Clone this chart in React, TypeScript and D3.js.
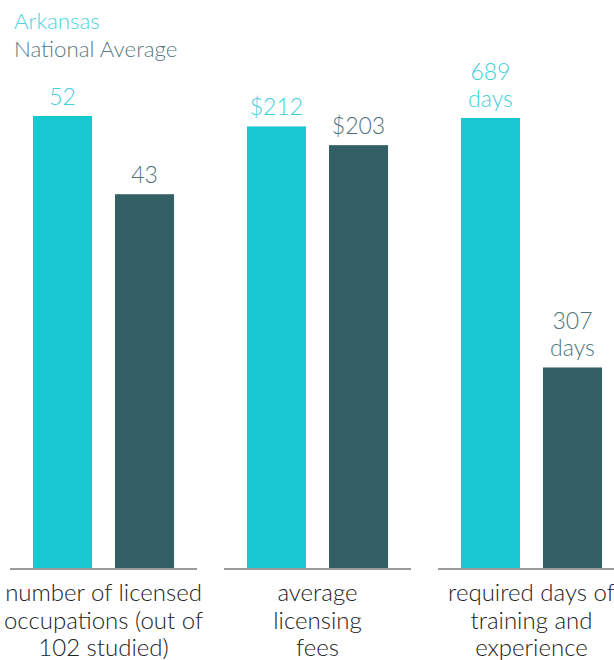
import React, { useRef, useEffect } from 'react';
import * as d3 from 'd3';

const categories = [
  ["number of licensed", "occupations (out of", "102 studied)"],
  ["average", "licensing", "fees"],
  ["required days of", "training and", "experience"],
];
const arkansas = [52, 212, 689];
const national = [43, 203, 307];
const arkansasLabels = [["52"], ["$212"], ["689", "days"]];
const nationalLabels = [["43"], ["$203"], ["307", "days"]];
const scaleMax = [52, 217, 692];

const App = () => {
  const ref = useRef<SVGSVGElement>(null);
  const width = 614;
  const height = 660;

  useEffect(() => {
    const svg = d3.select(ref.current);
    svg.selectAll("*").remove();
    const font = "Lato, 'Open Sans', sans-serif";
    const baseline = 568;
    const top = 116;

    const x = d3.scaleBand<number>()
      .domain(d3.range(categories.length))
      .range([10, 625])
      .paddingInner(0.126)
      .paddingOuter(0);

    const inner = d3.scaleBand<string>()
      .domain(["ar", "na"])
      .range([0, x.bandwidth()])
      .paddingInner(0.28)
      .paddingOuter(0.28);

    const series = [
      { key: "ar", values: arkansas, labels: arkansasLabels, fill: "#17c8d1", text: "#3fd0da" },
      { key: "na", values: national, labels: nationalLabels, fill: "#315f63", text: "#4e7479" },
    ];

    // legend
    svg.append("text").attr("x", 14).attr("y", 29)
      .attr("font-family", font).attr("font-weight", 300).attr("font-size", 22.3).attr("fill", "#4dd3dc")
      .text("Arkansas");
    svg.append("text").attr("x", 14).attr("y", 57)
      .attr("font-family", font).attr("font-weight", 300).attr("font-size", 22.3).attr("fill", "#5a7a7f")
      .text("National Average");

    categories.forEach((cat, i) => {
      const y = d3.scaleLinear().domain([0, scaleMax[i]]).range([baseline, top]);
      const g = svg.append("g").attr("transform", `translate(${x(i)},0)`);

      series.forEach(s => {
        const bx = inner(s.key)!;
        const v = s.values[i];
        g.append("rect")
          .attr("x", bx)
          .attr("y", y(v))
          .attr("width", inner.bandwidth())
          .attr("height", baseline - y(v))
          .attr("fill", s.fill);

        const lines = s.labels[i];
        lines.forEach((t, j) => {
          g.append("text")
            .attr("x", bx + inner.bandwidth() / 2)
            .attr("y", y(v) - 11 - (lines.length - 1 - j) * 27)
            .attr("text-anchor", "middle")
            .attr("font-family", font)
            .attr("font-weight", 300)
            .attr("font-size", 23)
            .attr("fill", s.text)
            .text(t);
        });
      });

      g.append("line")
        .attr("x1", 0).attr("x2", x.bandwidth())
        .attr("y1", baseline + 1).attr("y2", baseline + 1)
        .attr("stroke", "#9a9a9a").attr("stroke-width", 2);

      cat.forEach((t, j) => {
        g.append("text")
          .attr("x", x.bandwidth() / 2)
          .attr("y", 601 + j * 27.5)
          .attr("text-anchor", "middle")
          .attr("font-family", font)
          .attr("font-weight", 300)
          .attr("font-size", 24)
          .attr("fill", "#222")
          .text(t);
      });
    });
  }, []);

  return (
    <svg ref={ref} width={width} height={height}
      style={{ position: "absolute", left: 0, top: 0, background: "#fff" }} />
  );
};

export default App;
